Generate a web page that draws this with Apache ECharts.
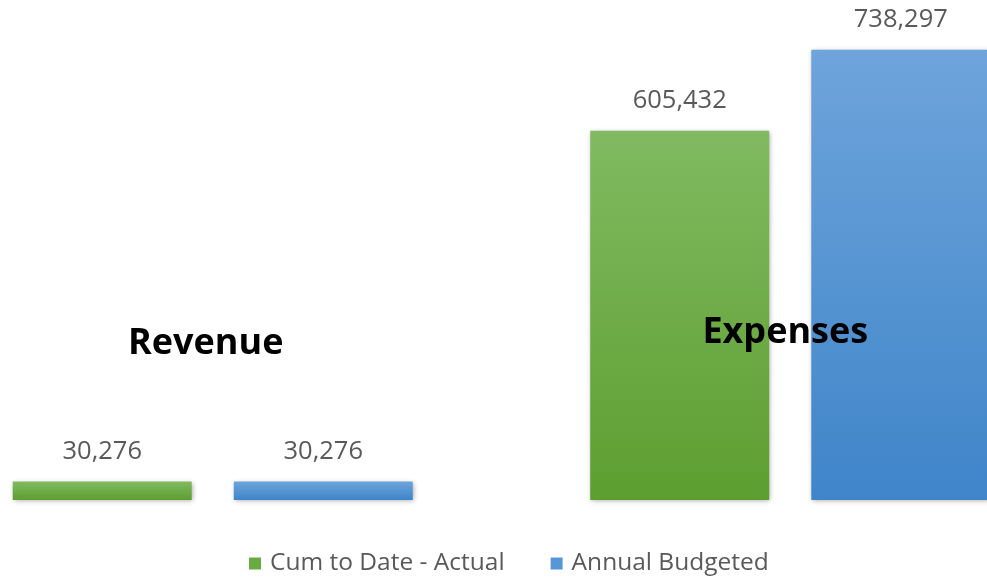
<!DOCTYPE html>
<html>
<head>
<meta charset="utf-8">
<script src="https://cdn.jsdelivr.net/npm/echarts@6/dist/echarts.min.js"></script>
<style>html,body{margin:0;padding:0;background:#fff;}#c{width:987px;height:577px;}</style>
</head>
<body>
<div id="c"></div>
<script>
var categories = ['Revenue', 'Expenses'];
var seriesNames = ['Cum to Date - Actual', 'Annual Budgeted'];
var actualValues = [30276, 605432];
var budgetValues = [30276, 738297];

var chart = echarts.init(document.getElementById('c'), null, {renderer: 'canvas'});
function grad(top, bottom) {
  return new echarts.graphic.LinearGradient(0, 0, 0, 1, [
    {offset: 0, color: top}, {offset: 1, color: bottom}
  ]);
}
var labelCfg = {
  show: true, position: 'top', distance: 17,
  fontFamily: 'Open Sans', fontSize: 25.5, color: '#595959',
  formatter: function (p) { return p.value.toLocaleString('en-US'); }
};
var shadow = {shadowBlur: 5, shadowColor: 'rgba(0,0,0,0.35)', shadowOffsetX: 1, shadowOffsetY: 1};
chart.setOption({
  animation: false,
  backgroundColor: '#ffffff',
  grid: {left: -76, width: 1155, top: 0, bottom: 77, containLabel: false, outerBoundsMode: 'none'},
  legend: {
    top: 546, left: 244, icon: 'rect', itemWidth: 12, itemHeight: 12, itemGap: 46,
    textStyle: {fontFamily: 'Open Sans', fontSize: 24.5, color: '#595959', padding: [0, 0, 0, 4]},
    data: seriesNames
  },
  xAxis: {
    type: 'category', data: categories, z: 10,
    axisLine: {show: false}, axisTick: {show: false},
    axisLabel: {
      margin: -196, interval: 0,
      formatter: function (v) { return v === 'Revenue' ? '{rev|' + v + '}' : '{exp|' + v + '}'; },
      rich: {
        rev: {fontFamily: 'Open Sans', fontWeight: 'bold', fontSize: 36, color: '#000', padding: [22, 14, 0, 0]},
        exp: {fontFamily: 'Open Sans', fontWeight: 'bold', fontSize: 36, color: '#000', padding: [11, 10, 0, 0]}
      }
    }
  },
  yAxis: {type: 'value', min: 0, max: 820000, show: false, splitLine: {show: false}},
  series: [
    {
      name: seriesNames[0], type: 'bar', data: actualValues, barWidth: 179, barGap: '23.5%',
      itemStyle: Object.assign({color: grad('#81ba61', '#5d9e30')}, shadow),
      label: labelCfg
    },
    {
      name: seriesNames[1], type: 'bar', data: budgetValues, barWidth: 179,
      itemStyle: Object.assign({color: grad('#6ea4db', '#3f85c9')}, shadow),
      label: labelCfg
    }
  ]
});
chart.setOption({legend: {data: [
  {name: seriesNames[0], itemStyle: {color: '#6aaa42'}},
  {name: seriesNames[1], itemStyle: {color: '#5797d6'}}
]}});
</script>
</body>
</html>
